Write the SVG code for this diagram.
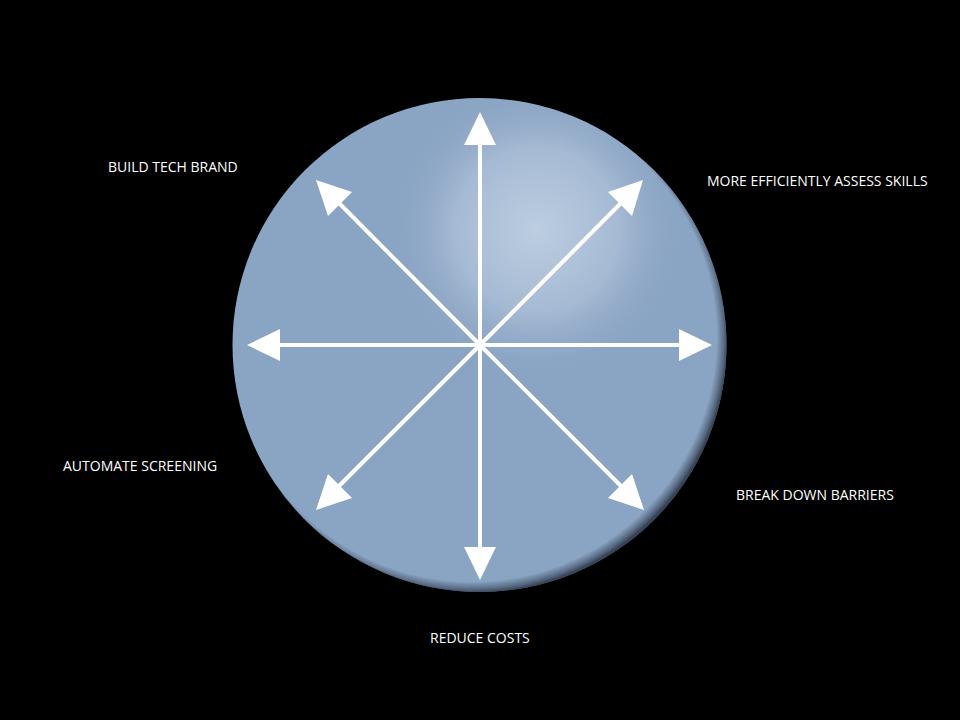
<svg xmlns="http://www.w3.org/2000/svg" width="960" height="720" viewBox="0 0 960 720">
<defs>
<style>
.lbl{font-family:"Open Sans","Liberation Sans",sans-serif;font-size:14px;fill:#ffffff}
.ar{stroke:#ffffff;stroke-width:4;fill:none}
</style>
<radialGradient id="hl" gradientUnits="userSpaceOnUse" cx="537" cy="230" r="150">
<stop offset="0" stop-color="#bccde0"/>
<stop offset="0.55" stop-color="#a5bad3"/>
<stop offset="1" stop-color="#8aa4c4" stop-opacity="0"/>
</radialGradient>
<radialGradient id="edge" gradientUnits="userSpaceOnUse" cx="472" cy="337" r="256">
<stop offset="0.955" stop-color="#1a2232" stop-opacity="0"/>
<stop offset="0.985" stop-color="#1a2232" stop-opacity="0.45"/>
<stop offset="1" stop-color="#1a2232" stop-opacity="0.75"/>
</radialGradient>
<clipPath id="cc"><circle cx="479.5" cy="345" r="247"/></clipPath>
</defs>
<rect width="960" height="720" fill="#000000"/>
<g id="sphere">
<circle cx="479.5" cy="345" r="247" fill="#8aa4c3"/>
<circle cx="537" cy="230" r="150" fill="url(#hl)" clip-path="url(#cc)"/>
<circle cx="479.5" cy="345" r="247" fill="url(#edge)"/>
</g>
<g id="connectors">
<line class="ar" x1="480" y1="345" x2="480" y2="140"/>
<path d="M480,112 L496,145 L464,145 Z" fill="#fff"/>
<line class="ar" x1="480" y1="345" x2="480" y2="552"/>
<path d="M480,580 L496,547 L464,547 Z" fill="#fff"/>
<line class="ar" x1="480" y1="345" x2="684" y2="345"/>
<path d="M712,345 L679,329 L679,361 Z" fill="#fff"/>
<line class="ar" x1="480" y1="345" x2="275" y2="345"/>
<path d="M247,345 L280,329 L280,361 Z" fill="#fff"/>
<line class="ar" x1="480" y1="345" x2="624" y2="200"/>
<path d="M643,180 L632,216 L608,192 Z" fill="#fff"/>
<line class="ar" x1="480" y1="345" x2="336" y2="200"/>
<path d="M316,180 L352,192 L328,216 Z" fill="#fff"/>
<line class="ar" x1="480" y1="345" x2="625" y2="490"/>
<path d="M644,510 L608,498 L632,474 Z" fill="#fff"/>
<line class="ar" x1="480" y1="345" x2="335" y2="490"/>
<path d="M316,510 L328,474 L352,498 Z" fill="#fff"/>
</g>
<g id="n1"><text class="lbl" x="108" y="172">BUILD TECH BRAND</text></g>
<g id="n2"><text class="lbl" x="707" y="186">MORE EFFICIENTLY ASSESS SKILLS</text></g>
<g id="n3"><text class="lbl" x="63" y="471">AUTOMATE SCREENING</text></g>
<g id="n4"><text class="lbl" x="736" y="500">BREAK DOWN BARRIERS</text></g>
<g id="n5"><text class="lbl" x="430" y="643">REDUCE COSTS</text></g>
</svg>
